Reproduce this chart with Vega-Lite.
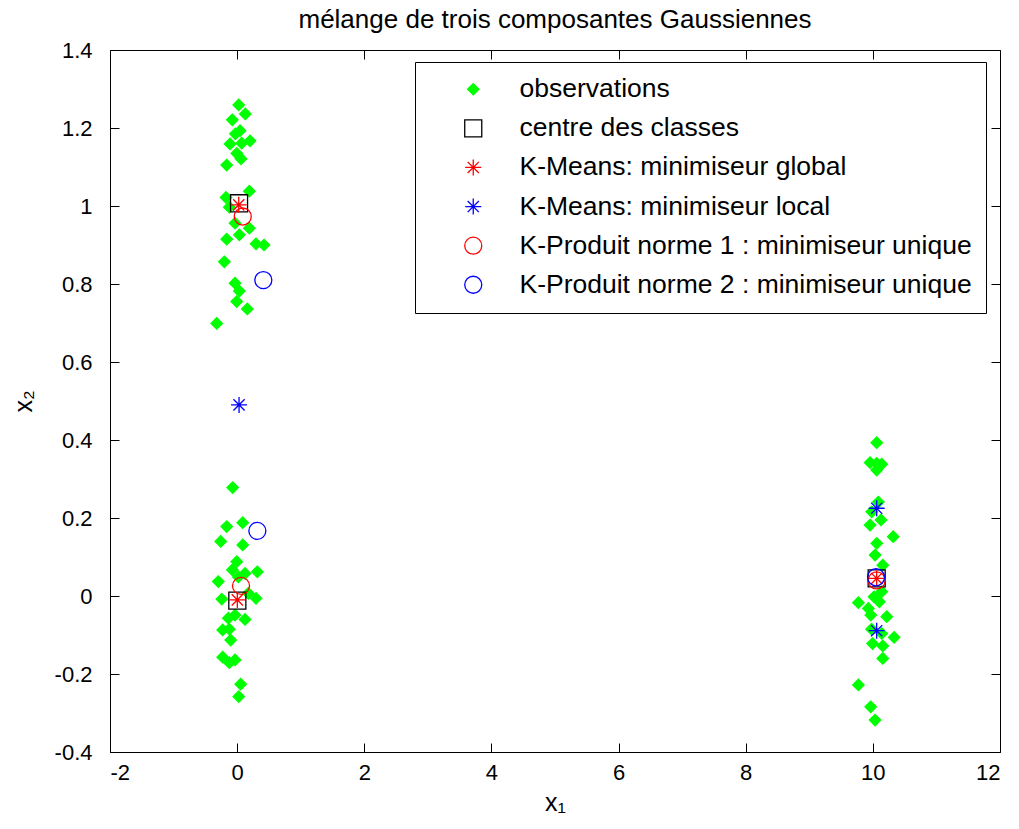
{
  "$schema": "https://vega.github.io/schema/vega-lite/v6.json",
  "autosize": {"type": "none"},
  "padding": {"left": 110, "top": 50, "right": 19, "bottom": 77},
  "width": 890,
  "height": 702,
  "background": "white",
  "title": {"text": "mélange de trois composantes Gaussiennes", "fontSize": 26, "fontWeight": "normal", "font": "Liberation Sans", "color": "black", "offset": 6},
  "config": {
    "view": {"stroke": "black", "strokeWidth": 1},
    "font": "Liberation Sans",
    "axis": {"domain": false, "grid": false, "tickColor": "black", "tickSize": -9, "labelColor": "black", "labelFont": "Liberation Sans", "labelFontSize": 22, "titleFont": "Liberation Sans", "titleFontWeight": "normal", "titleFontSize": 25, "titleColor": "black"}
  },
  "data": {"values": [
    {"x": 0.025, "y": 1.259, "s": "observations"},
    {"x": 0.129, "y": 1.236, "s": "observations"},
    {"x": -0.076, "y": 1.221, "s": "observations"},
    {"x": 0.046, "y": 1.193, "s": "observations"},
    {"x": -0.028, "y": 1.185, "s": "observations"},
    {"x": -0.112, "y": 1.159, "s": "observations"},
    {"x": 0.203, "y": 1.167, "s": "observations"},
    {"x": 0.072, "y": 1.161, "s": "observations"},
    {"x": -0.006, "y": 1.135, "s": "observations"},
    {"x": 0.061, "y": 1.121, "s": "observations"},
    {"x": -0.164, "y": 1.105, "s": "observations"},
    {"x": 0.192, "y": 1.038, "s": "observations"},
    {"x": -0.175, "y": 1.022, "s": "observations"},
    {"x": -0.123, "y": 0.997, "s": "observations"},
    {"x": -0.033, "y": 0.956, "s": "observations"},
    {"x": 0.192, "y": 0.943, "s": "observations"},
    {"x": 0.035, "y": 0.926, "s": "observations"},
    {"x": -0.164, "y": 0.915, "s": "observations"},
    {"x": 0.297, "y": 0.903, "s": "observations"},
    {"x": 0.423, "y": 0.9, "s": "observations"},
    {"x": -0.201, "y": 0.857, "s": "observations"},
    {"x": -0.033, "y": 0.802, "s": "observations"},
    {"x": 0.035, "y": 0.782, "s": "observations"},
    {"x": -0.006, "y": 0.755, "s": "observations"},
    {"x": 0.16, "y": 0.736, "s": "observations"},
    {"x": -0.321, "y": 0.699, "s": "observations"},
    {"x": -0.07, "y": 0.278, "s": "observations"},
    {"x": -0.164, "y": 0.178, "s": "observations"},
    {"x": 0.088, "y": 0.188, "s": "observations"},
    {"x": -0.258, "y": 0.14, "s": "observations"},
    {"x": 0.088, "y": 0.131, "s": "observations"},
    {"x": -0.006, "y": 0.088, "s": "observations"},
    {"x": -0.076, "y": 0.067, "s": "observations"},
    {"x": 0.124, "y": 0.058, "s": "observations"},
    {"x": 0.318, "y": 0.062, "s": "observations"},
    {"x": -0.296, "y": 0.037, "s": "observations"},
    {"x": 0.019, "y": 0.049, "s": "observations"},
    {"x": -0.242, "y": -0.008, "s": "observations"},
    {"x": 0.176, "y": 0.007, "s": "observations"},
    {"x": 0.297, "y": -0.006, "s": "observations"},
    {"x": -0.138, "y": -0.057, "s": "observations"},
    {"x": -0.033, "y": -0.049, "s": "observations"},
    {"x": 0.124, "y": -0.06, "s": "observations"},
    {"x": -0.227, "y": -0.087, "s": "observations"},
    {"x": -0.123, "y": -0.085, "s": "observations"},
    {"x": -0.101, "y": -0.113, "s": "observations"},
    {"x": -0.227, "y": -0.157, "s": "observations"},
    {"x": -0.123, "y": -0.171, "s": "observations"},
    {"x": -0.033, "y": -0.164, "s": "observations"},
    {"x": 0.056, "y": -0.226, "s": "observations"},
    {"x": 0.025, "y": -0.258, "s": "observations"},
    {"x": 10.061, "y": 0.393, "s": "observations"},
    {"x": 9.956, "y": 0.342, "s": "observations"},
    {"x": 10.061, "y": 0.34, "s": "observations"},
    {"x": 10.14, "y": 0.338, "s": "observations"},
    {"x": 10.061, "y": 0.323, "s": "observations"},
    {"x": 10.087, "y": 0.241, "s": "observations"},
    {"x": 9.983, "y": 0.216, "s": "observations"},
    {"x": 10.129, "y": 0.195, "s": "observations"},
    {"x": 9.956, "y": 0.182, "s": "observations"},
    {"x": 10.32, "y": 0.152, "s": "observations"},
    {"x": 10.061, "y": 0.135, "s": "observations"},
    {"x": 10.035, "y": 0.105, "s": "observations"},
    {"x": 10.156, "y": 0.079, "s": "observations"},
    {"x": 10.14, "y": 0.011, "s": "observations"},
    {"x": 10.019, "y": -0.002, "s": "observations"},
    {"x": 10.103, "y": -0.015, "s": "observations"},
    {"x": 9.773, "y": -0.017, "s": "observations"},
    {"x": 9.93, "y": -0.032, "s": "observations"},
    {"x": 9.967, "y": -0.049, "s": "observations"},
    {"x": 10.219, "y": -0.053, "s": "observations"},
    {"x": 9.98, "y": -0.085, "s": "observations"},
    {"x": 10.14, "y": -0.096, "s": "observations"},
    {"x": 10.334, "y": -0.106, "s": "observations"},
    {"x": 9.996, "y": -0.122, "s": "observations"},
    {"x": 10.156, "y": -0.128, "s": "observations"},
    {"x": 10.156, "y": -0.16, "s": "observations"},
    {"x": 9.773, "y": -0.228, "s": "observations"},
    {"x": 9.967, "y": -0.284, "s": "observations"},
    {"x": 10.035, "y": -0.318, "s": "observations"},
    {"x": 0.03, "y": 1.007, "s": "centre des classes"},
    {"x": 0.003, "y": -0.012, "s": "centre des classes"},
    {"x": 10.06, "y": 0.045, "s": "centre des classes"},
    {"x": 0.025, "y": 1.003, "s": "K-Means: minimiseur global"},
    {"x": 0.003, "y": -0.01, "s": "K-Means: minimiseur global"},
    {"x": 10.06, "y": 0.045, "s": "K-Means: minimiseur global"},
    {"x": 0.03, "y": 0.49, "s": "K-Means: minimiseur local"},
    {"x": 10.06, "y": 0.225, "s": "K-Means: minimiseur local"},
    {"x": 10.06, "y": -0.089, "s": "K-Means: minimiseur local"},
    {"x": 0.088, "y": 0.973, "s": "K-Produit norme 1 : minimiseur unique"},
    {"x": 0.061, "y": 0.026, "s": "K-Produit norme 1 : minimiseur unique"},
    {"x": 10.06, "y": 0.04, "s": "K-Produit norme 1 : minimiseur unique"},
    {"x": 0.412, "y": 0.81, "s": "K-Produit norme 2 : minimiseur unique"},
    {"x": 0.318, "y": 0.167, "s": "K-Produit norme 2 : minimiseur unique"},
    {"x": 10.05, "y": 0.048, "s": "K-Produit norme 2 : minimiseur unique"}
  ]},
  "layer": [
    {
      "mark": {"type": "point", "opacity": 1, "strokeWidth": 1.3},
      "encoding": {
        "x": {"field": "x", "type": "quantitative", "scale": {"domain": [-2, 12], "nice": false, "zero": false},
              "axis": {"orient": "bottom", "values": [-2, 0, 2, 4, 6, 8, 10, 12], "labelExpr": "'' + datum.value", "labelPadding": 19, "title": "x₁", "titlePadding": 7}},
        "y": {"field": "y", "type": "quantitative", "scale": {"domain": [-0.4, 1.4], "nice": false, "zero": false},
              "axis": {"orient": "left", "values": [-0.4, -0.2, 0, 0.2, 0.4, 0.6, 0.8, 1, 1.2, 1.4], "labelExpr": "'' + datum.value", "labelPadding": 27, "title": "x₂", "titlePadding": 18}},
        "shape": {"field": "s", "type": "nominal",
          "scale": {"domain": ["observations", "centre des classes", "K-Means: minimiseur global", "K-Means: minimiseur local", "K-Produit norme 1 : minimiseur unique", "K-Produit norme 2 : minimiseur unique"],
                    "range": ["diamond", "square", "M-1,0L1,0M0,-1L0,1M-0.7,-0.7L0.7,0.7M-0.7,0.7L0.7,-0.7", "M-1,0L1,0M0,-1L0,1M-0.7,-0.7L0.7,0.7M-0.7,0.7L0.7,-0.7", "circle", "circle"]},
          "legend": {"title": null, "orient": "none", "legendX": 305, "legendY": 12, "strokeColor": "black", "fillColor": "white", "padding": 14, "symbolOffset": 31, "labelOffset": 33, "labelFontSize": 26.5, "labelFont": "Liberation Sans", "labelColor": "black", "rowPadding": 12.1, "symbolStrokeWidth": 1.3, "labelLimit": 700, "cornerRadius": 0}},
        "stroke": {"field": "s", "type": "nominal",
          "scale": {"domain": ["observations", "centre des classes", "K-Means: minimiseur global", "K-Means: minimiseur local", "K-Produit norme 1 : minimiseur unique", "K-Produit norme 2 : minimiseur unique"],
                    "range": ["#00ff00", "#000000", "#ff0000", "#0000ff", "#ff0000", "#0000ff"]}, "legend": {"title": null}},
        "fill": {"field": "s", "type": "nominal",
          "scale": {"domain": ["observations", "centre des classes", "K-Means: minimiseur global", "K-Means: minimiseur local", "K-Produit norme 1 : minimiseur unique", "K-Produit norme 2 : minimiseur unique"],
                    "range": ["#00ff00", "transparent", "transparent", "transparent", "transparent", "transparent"]}, "legend": {"title": null}},
        "size": {"field": "s", "type": "nominal",
          "scale": {"type": "ordinal", "domain": ["observations", "centre des classes", "K-Means: minimiseur global", "K-Means: minimiseur local", "K-Produit norme 1 : minimiseur unique", "K-Produit norme 2 : minimiseur unique"],
                    "range": [130, 290, 256, 256, 290, 290]}, "legend": {"title": null}}
      }
    },
    {
      "mark": {"type": "point", "opacity": 0},
      "encoding": {
        "x": {"field": "x", "type": "quantitative", "axis": {"orient": "top", "values": [-2, 0, 2, 4, 6, 8, 10, 12], "labels": false, "title": null}},
        "y": {"field": "y", "type": "quantitative", "axis": {"orient": "right", "values": [-0.4, -0.2, 0, 0.2, 0.4, 0.6, 0.8, 1, 1.2, 1.4], "labels": false, "title": null}}
      }
    }
  ],
  "resolve": {"axis": {"x": "independent", "y": "independent"}}
}
